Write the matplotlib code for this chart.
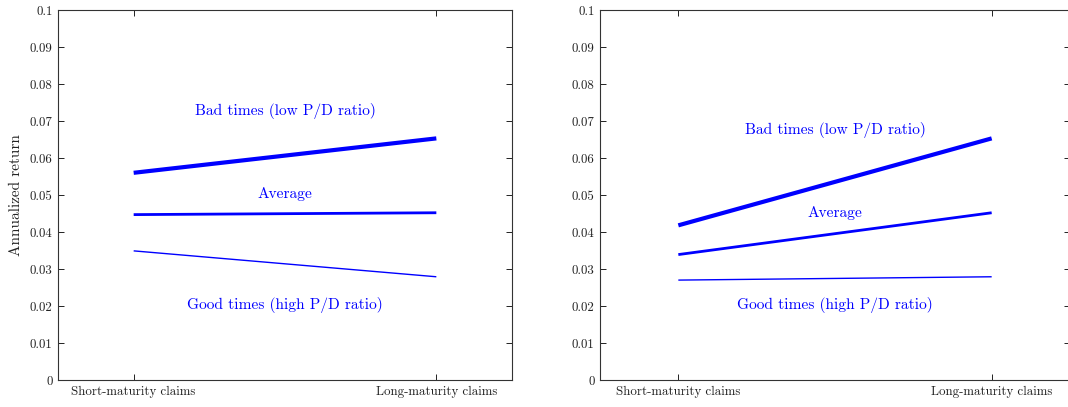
import numpy as np
import matplotlib
matplotlib.use("Agg")
import matplotlib.pyplot as plt

plt.rcParams['font.family'] = ['cmr10', 'DejaVu Serif']
plt.rcParams['mathtext.fontset'] = 'cm'
plt.rcParams['axes.unicode_minus'] = False

# maturities (1 = short, 2 = long)
maturity = [1, 2]
xtick_labels = ['Short-maturity claims', 'Long-maturity claims']
yticks = [0, 0.01, 0.02, 0.03, 0.04, 0.05, 0.06, 0.07, 0.08, 0.09, 0.1]
ytick_labels = ['0', '0.01', '0.02', '0.03', '0.04', '0.05', '0.06', '0.07', '0.08', '0.09', '0.1']

# left panel
left_bad = [0.0560, 0.0653]
left_avg = [0.0447, 0.0452]
left_good = [0.0349, 0.0279]

# right panel
right_bad = [0.0418, 0.0653]
right_avg = [0.0339, 0.0452]
right_good = [0.0270, 0.0279]

# label heights
left_text_y = [0.0727, 0.0502, 0.0203]
right_text_y = [0.0677, 0.0452, 0.0203]
labels = ['Bad times (low P/D ratio)', 'Average', 'Good times (high P/D ratio)']

W, H = 1068, 407
fig = plt.figure(figsize=(W / 100, H / 100), dpi=100)
ax1 = fig.add_axes([58 / W, 27 / H, 454 / W, 370 / H])
ax2 = fig.add_axes([600 / W, 27 / H, 470 / W, 370 / H])

blue = '#0000ff'
widths = [3.0, 2.0, 1.0]

for ax, series, ty in [(ax1, [left_bad, left_avg, left_good], left_text_y),
                       (ax2, [right_bad, right_avg, right_good], right_text_y)]:
    for s, lw in zip(series, widths):
        ax.plot(maturity, s, color=blue, lw=lw, solid_capstyle='butt')
    for lab, y in zip(labels, ty):
        ax.text(1.5, y, lab, color=blue, fontsize=11.1, ha='center', va='center')
    ax.set_xlim(0.75, 2.25)
    ax.set_ylim(0, 0.1)
    ax.set_xticks(maturity)
    ax.set_xticklabels(xtick_labels, fontsize=9.3)
    ax.set_yticks(yticks)
    ax.set_yticklabels(ytick_labels, fontsize=9.3)
    ax.tick_params(direction='in', top=True, right=True, length=4, width=0.7,
                   colors='#222222', labelcolor='#222222', pad=4)
    for sp in ax.spines.values():
        sp.set_linewidth(0.8)
        sp.set_color('#333333')

ax1.set_ylabel('Annualized return', fontsize=11, color='#222222', labelpad=5)

fig.savefig('out.png', dpi=100)
